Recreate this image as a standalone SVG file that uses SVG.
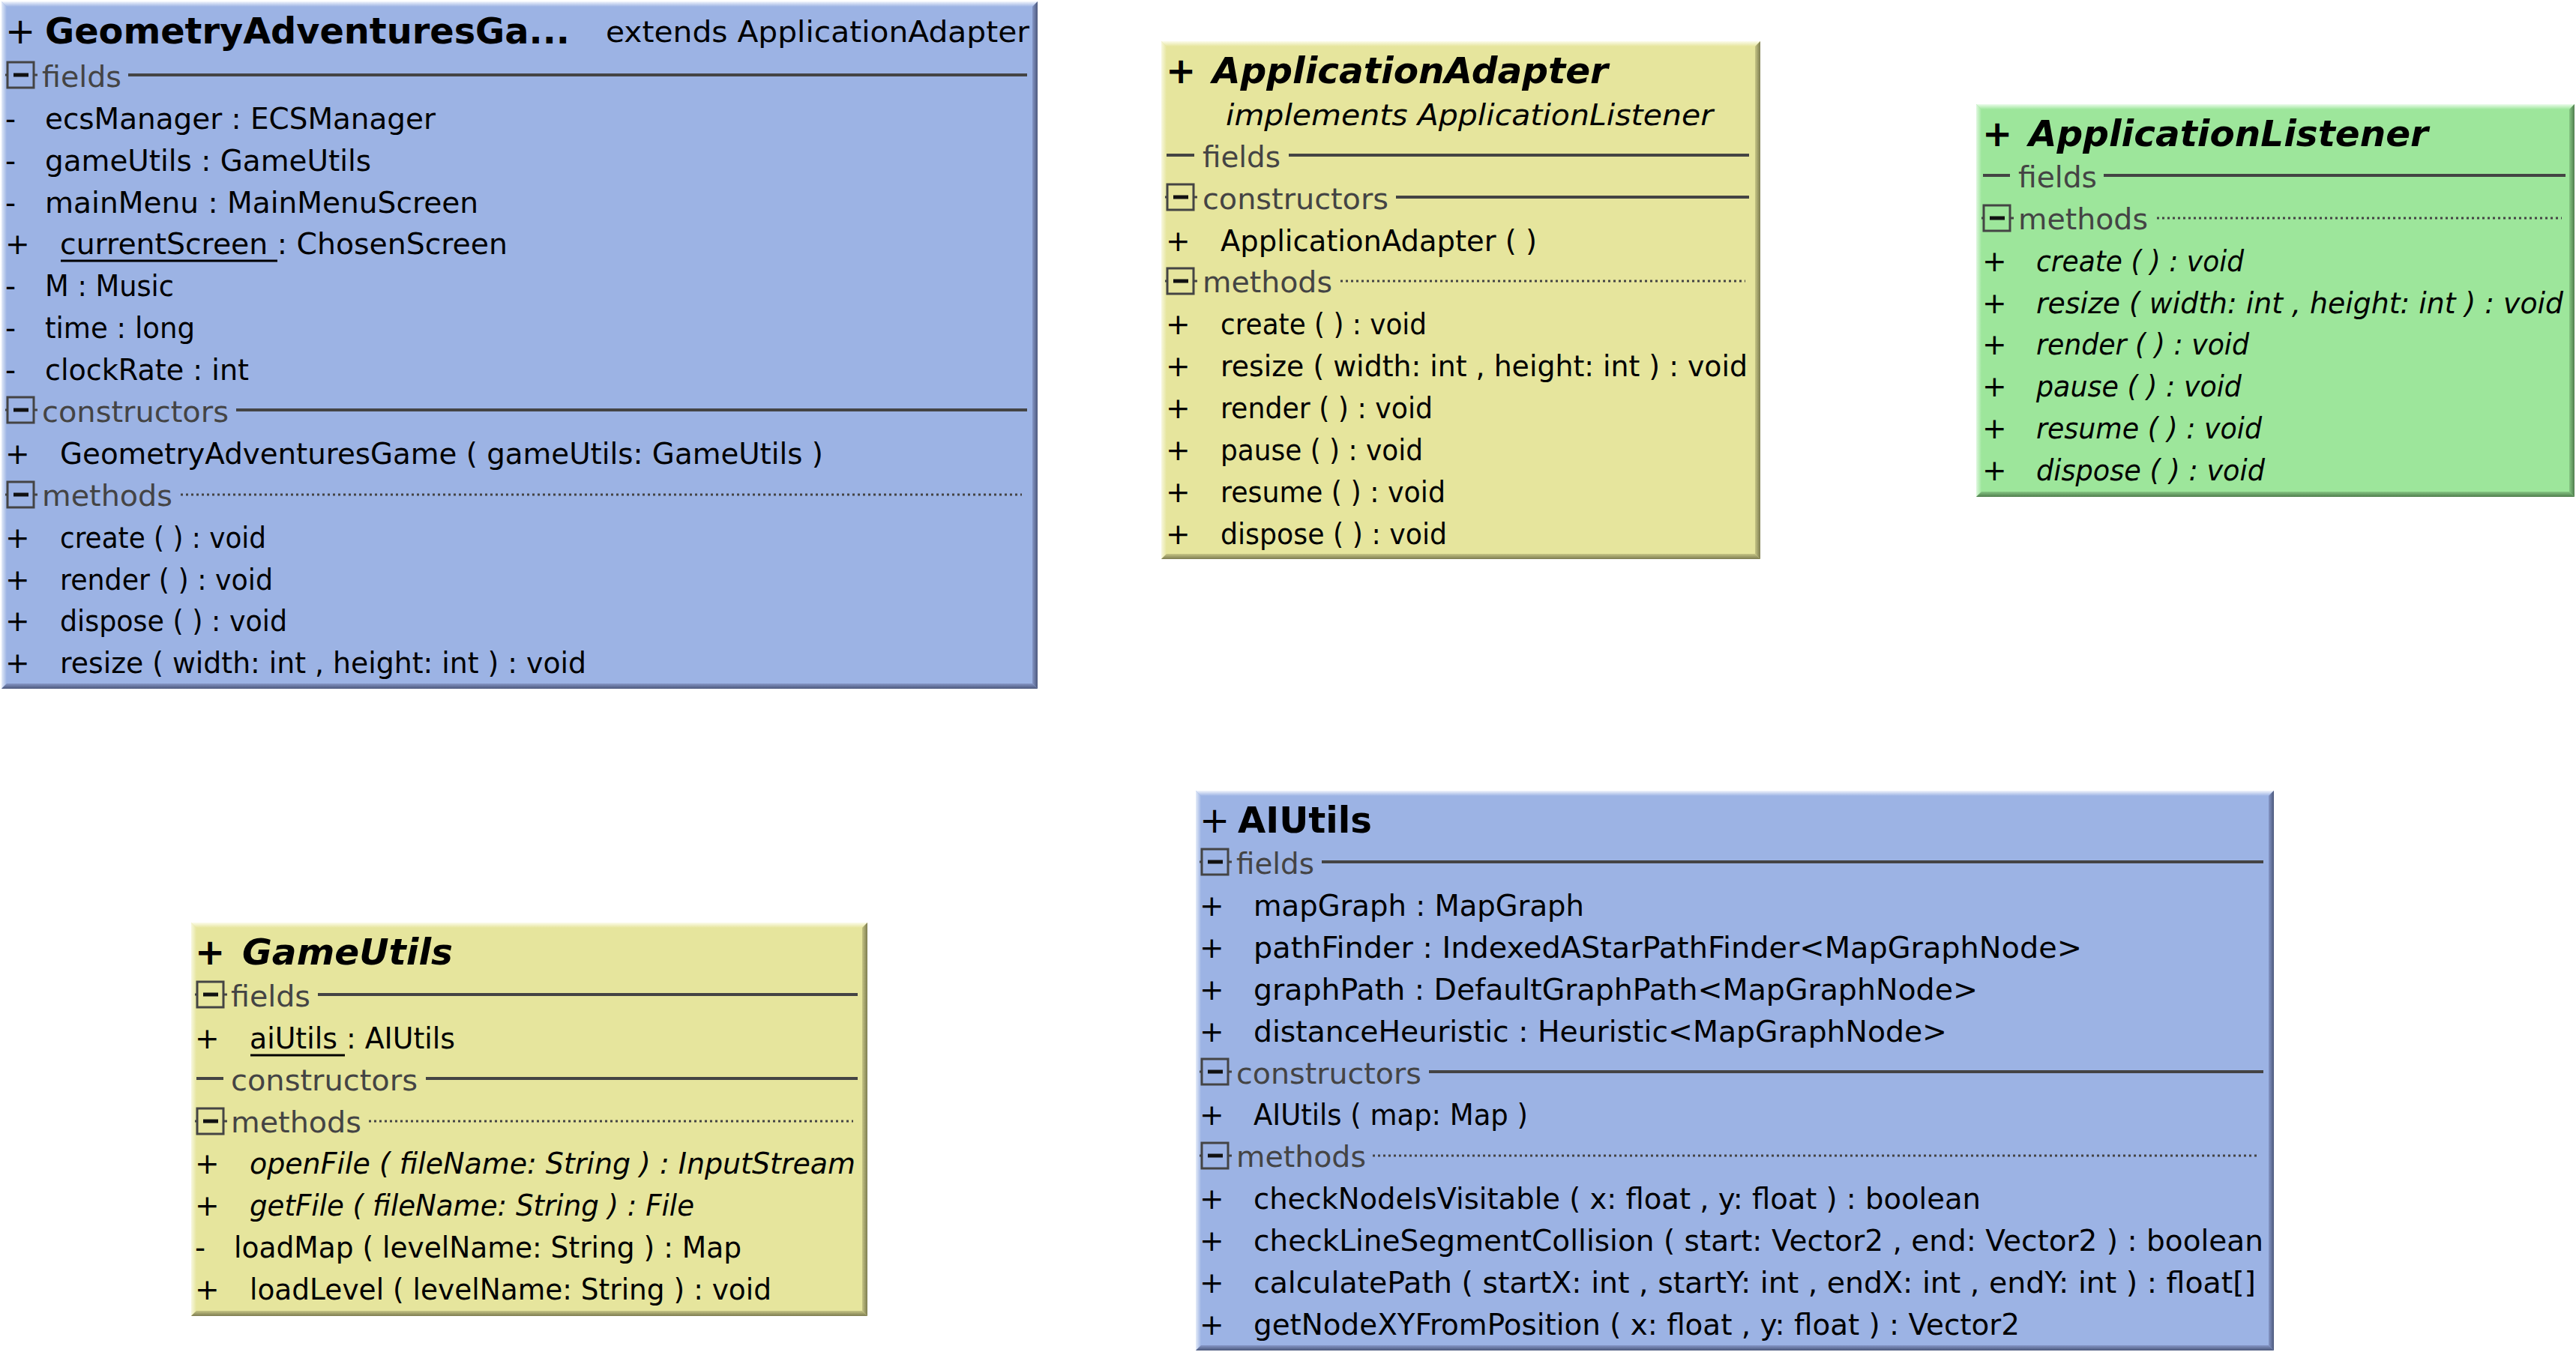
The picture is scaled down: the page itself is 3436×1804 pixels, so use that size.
<svg xmlns="http://www.w3.org/2000/svg" xmlns:xlink="http://www.w3.org/1999/xlink" width="3436" height="1804" viewBox="0 0 3436 1804" xml:space="preserve">
<style>
text{font-family:"DejaVu Sans","Liberation Sans",sans-serif;font-size:39px;fill:#000}
.ttl{font-size:48px}
.b{font-weight:bold}
.i{font-style:italic}
.sec{fill:#444}
.sep{stroke:#444;stroke-width:4}
.dot{stroke:#444;stroke-width:3;stroke-dasharray:3 4}
.ul{stroke:#000;stroke-width:3}
.fB{fill:#9cb3e4}.fY{fill:#e6e59d}.fG{fill:#9de69b}
</style>
<defs>
<linearGradient id="tB" x1="0" y1="0" x2="0" y2="1"><stop offset="0" stop-color="#f2f5fc"/><stop offset="1" stop-color="#9cb3e4"/></linearGradient>
<linearGradient id="lB" x1="0" y1="0" x2="1" y2="0"><stop offset="0" stop-color="#e4ebf8"/><stop offset="1" stop-color="#9cb3e4"/></linearGradient>
<linearGradient id="rB" x1="0" y1="0" x2="1" y2="0"><stop offset="0" stop-color="#8596c6"/><stop offset="1" stop-color="#4c587c"/></linearGradient>
<linearGradient id="bB" x1="0" y1="0" x2="0" y2="1"><stop offset="0" stop-color="#8596c6"/><stop offset="1" stop-color="#4c587c"/></linearGradient>
<linearGradient id="tY" x1="0" y1="0" x2="0" y2="1"><stop offset="0" stop-color="#fcfcec"/><stop offset="1" stop-color="#e6e59d"/></linearGradient>
<linearGradient id="lY" x1="0" y1="0" x2="1" y2="0"><stop offset="0" stop-color="#f8f8e0"/><stop offset="1" stop-color="#e6e59d"/></linearGradient>
<linearGradient id="rY" x1="0" y1="0" x2="1" y2="0"><stop offset="0" stop-color="#c6c585"/><stop offset="1" stop-color="#7d7c50"/></linearGradient>
<linearGradient id="bY" x1="0" y1="0" x2="0" y2="1"><stop offset="0" stop-color="#c6c585"/><stop offset="1" stop-color="#7d7c50"/></linearGradient>
<linearGradient id="tG" x1="0" y1="0" x2="0" y2="1"><stop offset="0" stop-color="#ecfcec"/><stop offset="1" stop-color="#9de69b"/></linearGradient>
<linearGradient id="lG" x1="0" y1="0" x2="1" y2="0"><stop offset="0" stop-color="#e0f8e0"/><stop offset="1" stop-color="#9de69b"/></linearGradient>
<linearGradient id="rG" x1="0" y1="0" x2="1" y2="0"><stop offset="0" stop-color="#85c683"/><stop offset="1" stop-color="#507d4e"/></linearGradient>
<linearGradient id="bG" x1="0" y1="0" x2="0" y2="1"><stop offset="0" stop-color="#85c683"/><stop offset="1" stop-color="#507d4e"/></linearGradient>
<g id="minus">
<line x1="-3" y1="0" x2="0" y2="0" stroke="#444" stroke-width="3"/>
<line x1="35" y1="0" x2="40" y2="0" stroke="#444" stroke-width="3"/>
<rect x="0" y="-17" width="35" height="34" fill="none" stroke="#444" stroke-width="3"/>
<line x1="8" y1="0" x2="28" y2="0" stroke="#111" stroke-width="5"/>
</g>
</defs>
<rect x="0" y="0" width="3436" height="1804" fill="#fff"/>
<g id="connectors"/>

<g id="GeometryAdventuresGame">
<rect class="fB" x="2" y="2" width="1382" height="917"/>
<polygon fill="url(#tB)" points="2,2 1384,2 1377,9 9,9"/>
<polygon fill="url(#lB)" points="2,2 9,9 9,912 2,919"/>
<polygon fill="url(#rB)" points="1377,9 1384,2 1384,919 1377,912"/>
<polygon fill="url(#bB)" points="9,912 1377,912 1384,919 2,919"/>
<text class="ttl" x="7" y="58">+</text>
<text class="ttl b" x="60" y="58" textLength="700" lengthAdjust="spacingAndGlyphs">GeometryAdventuresGa...</text>
<text x="808" y="56" textLength="565" lengthAdjust="spacingAndGlyphs">extends  ApplicationAdapter</text>
<use href="#minus" x="10" y="100"/>
<text class="sec" x="56" y="116" textLength="106" lengthAdjust="spacingAndGlyphs">fields</text>
<line class="sep" x1="171" y1="100" x2="1370" y2="100"/>
<text x="7" y="172">-</text><text x="60" y="172" textLength="521" lengthAdjust="spacingAndGlyphs">ecsManager : ECSManager</text>
<text x="7" y="228">-</text><text x="60" y="228" textLength="435" lengthAdjust="spacingAndGlyphs">gameUtils : GameUtils</text>
<text x="7" y="284">-</text><text x="60" y="284" textLength="578" lengthAdjust="spacingAndGlyphs">mainMenu : MainMenuScreen</text>
<text x="7" y="339">+</text><text x="80" y="339" textLength="597" lengthAdjust="spacingAndGlyphs">currentScreen : ChosenScreen</text>
<line class="ul" x1="81" y1="348" x2="370" y2="348"/>
<text x="7" y="395">-</text><text x="60" y="395" textLength="172" lengthAdjust="spacingAndGlyphs">M : Music</text>
<text x="7" y="451">-</text><text x="60" y="451" textLength="200" lengthAdjust="spacingAndGlyphs">time : long</text>
<text x="7" y="507">-</text><text x="60" y="507" textLength="272" lengthAdjust="spacingAndGlyphs">clockRate : int</text>
<use href="#minus" x="10" y="547"/>
<text class="sec" x="56" y="563" textLength="249" lengthAdjust="spacingAndGlyphs">constructors</text>
<line class="sep" x1="315" y1="547" x2="1370" y2="547"/>
<text x="7" y="619">+</text><text x="80" y="619" textLength="1018" lengthAdjust="spacingAndGlyphs">GeometryAdventuresGame ( gameUtils: GameUtils )</text>
<use href="#minus" x="10" y="660"/>
<text class="sec" x="56" y="675" textLength="174" lengthAdjust="spacingAndGlyphs">methods</text>
<line class="dot" x1="241" y1="660" x2="1363" y2="660"/>
<text x="7" y="731">+</text><text x="80" y="731" textLength="275" lengthAdjust="spacingAndGlyphs">create ( ) : void</text>
<text x="7" y="787">+</text><text x="80" y="787" textLength="284" lengthAdjust="spacingAndGlyphs">render ( ) : void</text>
<text x="7" y="842">+</text><text x="80" y="842" textLength="303" lengthAdjust="spacingAndGlyphs">dispose ( ) : void</text>
<text x="7" y="898">+</text><text x="80" y="898" textLength="702" lengthAdjust="spacingAndGlyphs">resize ( width: int ,  height: int ) : void</text>
</g>

<g id="ApplicationAdapter">
<rect class="fY" x="1549" y="55" width="799" height="691"/>
<polygon fill="url(#tY)" points="1549,55 2348,55 2341,62 1556,62"/>
<polygon fill="url(#lY)" points="1549,55 1556,62 1556,739 1549,746"/>
<polygon fill="url(#rY)" points="2341,62 2348,55 2348,746 2341,739"/>
<polygon fill="url(#bY)" points="1556,739 2341,739 2348,746 1549,746"/>
<text class="ttl b" x="1555" y="111">+</text>
<text class="ttl b i" x="1617" y="111" textLength="528" lengthAdjust="spacingAndGlyphs">ApplicationAdapter</text>
<text class="i" x="1635" y="167" textLength="650" lengthAdjust="spacingAndGlyphs">implements  ApplicationListener</text>
<line class="sep" x1="1556" y1="207" x2="1593" y2="207"/>
<text class="sec" x="1604" y="223" textLength="104" lengthAdjust="spacingAndGlyphs">fields</text>
<line class="sep" x1="1719" y1="207" x2="2333" y2="207"/>
<use href="#minus" x="1557" y="263"/>
<text class="sec" x="1604" y="279" textLength="248" lengthAdjust="spacingAndGlyphs">constructors</text>
<line class="sep" x1="1862" y1="263" x2="2333" y2="263"/>
<text x="1555" y="335">+</text><text x="1628" y="335" textLength="422" lengthAdjust="spacingAndGlyphs">ApplicationAdapter ( )</text>
<use href="#minus" x="1557" y="375"/>
<text class="sec" x="1604" y="390" textLength="173" lengthAdjust="spacingAndGlyphs">methods</text>
<line class="dot" x1="1788" y1="375" x2="2328" y2="375"/>
<text x="1555" y="446">+</text><text x="1628" y="446" textLength="275" lengthAdjust="spacingAndGlyphs">create ( ) : void</text>
<text x="1555" y="502">+</text><text x="1628" y="502" textLength="703" lengthAdjust="spacingAndGlyphs">resize ( width: int ,  height: int ) : void</text>
<text x="1555" y="558">+</text><text x="1628" y="558" textLength="283" lengthAdjust="spacingAndGlyphs">render ( ) : void</text>
<text x="1555" y="614">+</text><text x="1628" y="614" textLength="270" lengthAdjust="spacingAndGlyphs">pause ( ) : void</text>
<text x="1555" y="670">+</text><text x="1628" y="670" textLength="300" lengthAdjust="spacingAndGlyphs">resume ( ) : void</text>
<text x="1555" y="726">+</text><text x="1628" y="726" textLength="302" lengthAdjust="spacingAndGlyphs">dispose ( ) : void</text>
</g>

<g id="ApplicationListener">
<rect class="fG" x="2636" y="139" width="798" height="524"/>
<polygon fill="url(#tG)" points="2636,139 3434,139 3427,146 2643,146"/>
<polygon fill="url(#lG)" points="2636,139 2643,146 2643,656 2636,663"/>
<polygon fill="url(#rG)" points="3427,146 3434,139 3434,663 3427,656"/>
<polygon fill="url(#bG)" points="2643,656 3427,656 3434,663 2636,663"/>
<text class="ttl b" x="2644" y="195">+</text>
<text class="ttl b i" x="2706" y="195" textLength="533" lengthAdjust="spacingAndGlyphs">ApplicationListener</text>
<line class="sep" x1="2645" y1="234" x2="2681" y2="234"/>
<text class="sec" x="2692" y="250" textLength="105" lengthAdjust="spacingAndGlyphs">fields</text>
<line class="sep" x1="2806" y1="234" x2="3422" y2="234"/>
<use href="#minus" x="2646" y="291"/>
<text class="sec" x="2692" y="306" textLength="173" lengthAdjust="spacingAndGlyphs">methods</text>
<line class="dot" x1="2877" y1="291" x2="3417" y2="291"/>
<text x="2644" y="362">+</text><text class="i" x="2716" y="362" textLength="277" lengthAdjust="spacingAndGlyphs">create ( ) : void</text>
<text x="2644" y="418">+</text><text class="i" x="2716" y="418" textLength="703" lengthAdjust="spacingAndGlyphs">resize ( width: int ,  height: int ) : void</text>
<text x="2644" y="473">+</text><text class="i" x="2716" y="473" textLength="284" lengthAdjust="spacingAndGlyphs">render ( ) : void</text>
<text x="2644" y="529">+</text><text class="i" x="2716" y="529" textLength="274" lengthAdjust="spacingAndGlyphs">pause ( ) : void</text>
<text x="2644" y="585">+</text><text class="i" x="2716" y="585" textLength="301" lengthAdjust="spacingAndGlyphs">resume ( ) : void</text>
<text x="2644" y="641">+</text><text class="i" x="2716" y="641" textLength="305" lengthAdjust="spacingAndGlyphs">dispose ( ) : void</text>
</g>

<g id="GameUtils">
<rect class="fY" x="255" y="1231" width="902" height="525"/>
<polygon fill="url(#tY)" points="255,1231 1157,1231 1150,1238 262,1238"/>
<polygon fill="url(#lY)" points="255,1231 262,1238 262,1749 255,1756"/>
<polygon fill="url(#rY)" points="1150,1238 1157,1231 1157,1756 1150,1749"/>
<polygon fill="url(#bY)" points="262,1749 1150,1749 1157,1756 255,1756"/>
<text class="ttl b" x="260" y="1287">+</text>
<text class="ttl b i" x="323" y="1287" textLength="281" lengthAdjust="spacingAndGlyphs">GameUtils</text>
<use href="#minus" x="263" y="1327"/>
<text class="sec" x="308" y="1343" textLength="106" lengthAdjust="spacingAndGlyphs">fields</text>
<line class="sep" x1="424" y1="1327" x2="1144" y2="1327"/>
<text x="260" y="1399">+</text><text x="333" y="1399" textLength="274" lengthAdjust="spacingAndGlyphs">aiUtils : AIUtils</text>
<line class="ul" x1="334" y1="1408" x2="460" y2="1408"/>
<line class="sep" x1="262" y1="1439" x2="298" y2="1439"/>
<text class="sec" x="308" y="1455" textLength="249" lengthAdjust="spacingAndGlyphs">constructors</text>
<line class="sep" x1="568" y1="1439" x2="1144" y2="1439"/>
<use href="#minus" x="263" y="1496"/>
<text class="sec" x="308" y="1511" textLength="174" lengthAdjust="spacingAndGlyphs">methods</text>
<line class="dot" x1="492" y1="1496" x2="1138" y2="1496"/>
<text x="260" y="1566">+</text><text class="i" x="333" y="1566" textLength="808" lengthAdjust="spacingAndGlyphs">openFile ( fileName: String ) : InputStream</text>
<text x="260" y="1622">+</text><text class="i" x="333" y="1622" textLength="593" lengthAdjust="spacingAndGlyphs">getFile ( fileName: String ) : File</text>
<text x="260" y="1678">-</text><text x="312" y="1678" textLength="677" lengthAdjust="spacingAndGlyphs">loadMap ( levelName: String ) : Map</text>
<text x="260" y="1734">+</text><text x="333" y="1734" textLength="696" lengthAdjust="spacingAndGlyphs">loadLevel ( levelName: String ) : void</text>
</g>

<g id="AIUtils">
<rect class="fB" x="1595" y="1055" width="1438" height="747"/>
<polygon fill="url(#tB)" points="1595,1055 3033,1055 3026,1062 1602,1062"/>
<polygon fill="url(#lB)" points="1595,1055 1602,1062 1602,1795 1595,1802"/>
<polygon fill="url(#rB)" points="3026,1062 3033,1055 3033,1802 3026,1795"/>
<polygon fill="url(#bB)" points="1602,1795 3026,1795 3033,1802 1595,1802"/>
<text class="ttl" x="1600" y="1111">+</text>
<text class="ttl b" x="1651" y="1111" textLength="179" lengthAdjust="spacingAndGlyphs">AIUtils</text>
<use href="#minus" x="1603" y="1150"/>
<text class="sec" x="1649" y="1166" textLength="104" lengthAdjust="spacingAndGlyphs">fields</text>
<line class="sep" x1="1763" y1="1150" x2="3019" y2="1150"/>
<text x="1600" y="1222">+</text><text x="1672" y="1222" textLength="441" lengthAdjust="spacingAndGlyphs">mapGraph : MapGraph</text>
<text x="1600" y="1278">+</text><text x="1672" y="1278" textLength="1105" lengthAdjust="spacingAndGlyphs">pathFinder : IndexedAStarPathFinder&lt;MapGraphNode&gt;</text>
<text x="1600" y="1334">+</text><text x="1672" y="1334" textLength="966" lengthAdjust="spacingAndGlyphs">graphPath : DefaultGraphPath&lt;MapGraphNode&gt;</text>
<text x="1600" y="1390">+</text><text x="1672" y="1390" textLength="925" lengthAdjust="spacingAndGlyphs">distanceHeuristic : Heuristic&lt;MapGraphNode&gt;</text>
<use href="#minus" x="1603" y="1430"/>
<text class="sec" x="1649" y="1446" textLength="247" lengthAdjust="spacingAndGlyphs">constructors</text>
<line class="sep" x1="1906" y1="1430" x2="3019" y2="1430"/>
<text x="1600" y="1501">+</text><text x="1672" y="1501" textLength="366" lengthAdjust="spacingAndGlyphs">AIUtils ( map: Map )</text>
<use href="#minus" x="1603" y="1542"/>
<text class="sec" x="1649" y="1557" textLength="173" lengthAdjust="spacingAndGlyphs">methods</text>
<line class="dot" x1="1831" y1="1542" x2="3013" y2="1542"/>
<text x="1600" y="1613">+</text><text x="1672" y="1613" textLength="970" lengthAdjust="spacingAndGlyphs">checkNodeIsVisitable ( x: float ,  y: float ) : boolean</text>
<text x="1600" y="1669">+</text><text x="1672" y="1669" textLength="1347" lengthAdjust="spacingAndGlyphs">checkLineSegmentCollision ( start: Vector2 ,  end: Vector2 ) : boolean</text>
<text x="1600" y="1725">+</text><text x="1672" y="1725" textLength="1337" lengthAdjust="spacingAndGlyphs">calculatePath ( startX: int ,  startY: int ,  endX: int ,  endY: int ) : float[]</text>
<text x="1600" y="1781">+</text><text x="1672" y="1781" textLength="1022" lengthAdjust="spacingAndGlyphs">getNodeXYFromPosition ( x: float ,  y: float ) : Vector2</text>
</g>
</svg>
